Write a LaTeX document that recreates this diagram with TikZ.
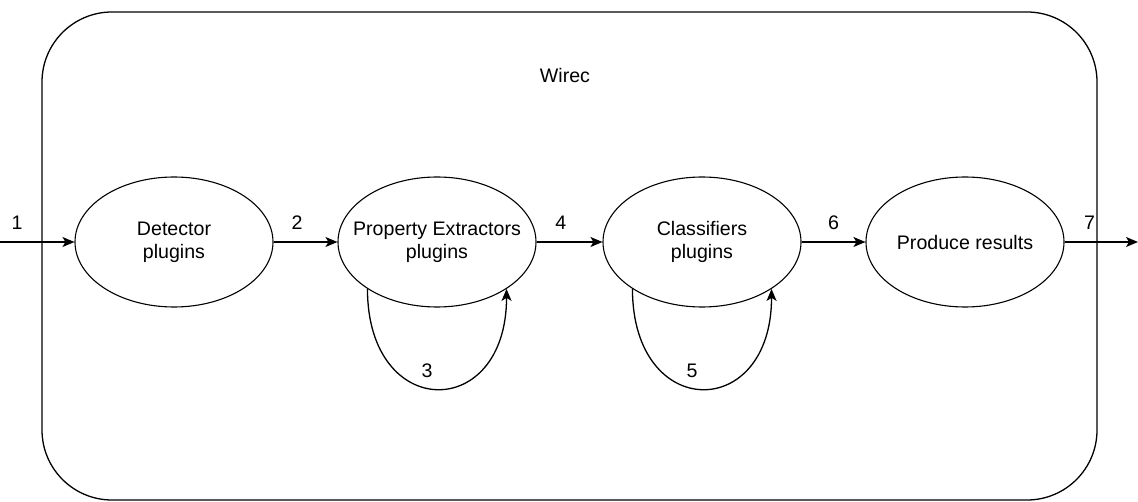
\documentclass[tikz,border=0pt]{standalone}
\usepackage{fontspec}
\setmainfont{Liberation Sans}
\usetikzlibrary{shapes.geometric,arrows.meta}
\begin{document}
\begin{tikzpicture}[x=1pt,y=-1pt,
  ell/.style={draw,ellipse,line width=1.1pt,minimum width=198pt,minimum height=130pt,inner sep=0pt},
  txt/.style={font=\fontsize{19.6}{23}\selectfont,align=center,inner sep=0pt},
  lbl/.style={font=\fontsize{19.6}{23}\selectfont,inner sep=0pt},
  arr/.style={line width=1.3pt,-{Stealth[length=12pt,width=10pt,inset=3pt]}},
  frame/.style={draw,line width=1.3pt,rounded corners=70pt}]
\useasboundingbox (0,0) rectangle (1138,502);
\draw[frame] (42,12) rectangle (1097,500);
\node[txt] (title) at (565,75) {Wirec};
\node[ell] (det) at (174,242) {};
\node[txt] at (det) {Detector\\plugins};
\node[ell] (prop) at (437,242) {};
\node[txt] at (prop) {Property Extractors\\plugins};
\node[ell] (cls) at (702,242) {};
\node[txt] at (cls) {Classifiers\\plugins};
\node[ell] (prod) at (965,242) {};
\node[txt] at (prod) {Produce results};
\coordinate (in) at (0,242);
\coordinate (out) at (1138,242);
\draw[arr] (in) -- node[lbl,pos=0.23,yshift=19pt]{1} (det.west);
\draw[arr] (det.east) -- node[lbl,pos=0.37,yshift=19pt]{2} (prop.west);
\draw[arr] (prop.east) -- node[lbl,pos=0.37,yshift=19pt]{4} (cls.west);
\draw[arr] (cls.east) -- node[lbl,pos=0.5,yshift=19pt]{6} (prod.west);
\draw[arr] (prod.east) -- node[lbl,pos=0.34,yshift=19pt]{7} (out);
\draw[arr] (prop.214.8) .. controls ++(0,133) and ++(0,133) .. node[lbl,pos=0.5,yshift=18pt,xshift=-10pt]{3} (prop.326);
\draw[arr] (cls.214.8) .. controls ++(0,133) and ++(0,133) .. node[lbl,pos=0.5,yshift=18pt,xshift=-10pt]{5} (cls.326);
\end{tikzpicture}
\end{document}
